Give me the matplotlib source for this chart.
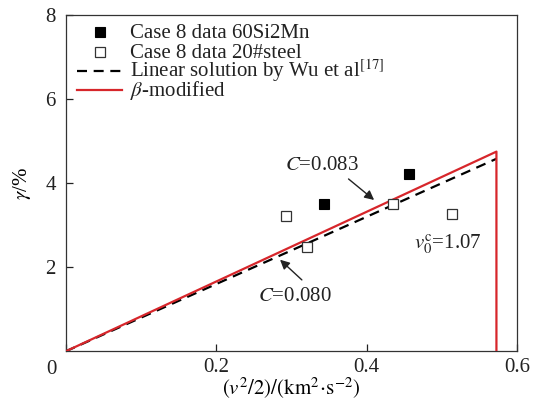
import matplotlib
matplotlib.use("Agg")
import matplotlib.pyplot as plt

# ---- data ----
x_60si2mn = [0.343, 0.4565]
y_60si2mn = [3.50, 4.22]
x_20steel = [0.293, 0.3205, 0.4357, 0.513]
y_20steel = [3.22, 2.48, 3.51, 3.26]
wu_x = [0.0, 0.5725]
wu_y = [0.0, 4.58]
beta_x = [0.0, 0.5725, 0.5725]
beta_y = [0.0, 4.75, 0.0]
xticks = [0.0, 0.2, 0.4, 0.6]
xticklabels = ["", "0.2", "0.4", "0.6"]
yticks = [2, 4, 6, 8]
yticklabels = ["2", "4", "6", "8"]
legend_labels = ["Case 8 data 60Si2Mn", "Case 8 data 20#steel",
                 r"Linear solution by Wu et al$^{[17]}$", r"$\beta$-modified"]

plt.rcParams['font.family'] = ['Liberation Serif', 'DejaVu Serif']
plt.rcParams['mathtext.fontset'] = 'stix'
FS = 15
TXT = '#222222'

fig = plt.figure(figsize=(5.37, 4.03), dpi=100)
ax = fig.add_axes([0.122, 0.128, 0.841, 0.835])

red = '#d7262b'
dash = (0, (4.5, 3))
ax.plot(wu_x, wu_y, color='black', lw=1.6, ls=dash, zorder=2)
ax.plot(beta_x, beta_y, color=red, lw=1.6, zorder=3)
sq60 = dict(ls='none', marker='s', ms=7.5, mfc='black', mec='black', mew=0.8)
sq20 = dict(ls='none', marker='s', ms=7.5, mfc='white', mec='#333333', mew=0.9)
ax.plot(x_60si2mn, y_60si2mn, zorder=4, **sq60)
ax.plot(x_20steel, y_20steel, zorder=4, **sq20)

ax.set_xlim(0, 0.6)
ax.set_ylim(0, 8)
ax.set_xticks(xticks)
ax.set_xticklabels(xticklabels)
ax.set_yticks(yticks)
ax.set_yticklabels(yticklabels)
ax.tick_params(direction='in', length=5, width=0.9, labelsize=FS, colors=TXT)
ax.tick_params(axis='x', pad=5)
ax.tick_params(axis='y', pad=7)
for s in ax.spines.values():
    s.set_linewidth(0.9)
    s.set_color('#333333')

ax.annotate("0", xy=(0, 0), xycoords='data', xytext=(-10, -6),
            textcoords='offset points', ha='center', va='top', fontsize=FS, color=TXT)

ax.set_xlabel(r"$(v^2/2)/(\mathrm{km}^2\!\cdot\!\mathrm{s}^{-2})$", fontsize=FS, labelpad=-1)
ax.set_ylabel(r"$\gamma$/%", fontsize=FS, labelpad=9)

# annotations
ax.annotate("", xy=(0.410, 3.60), xytext=(0.376, 4.10),
            arrowprops=dict(arrowstyle='-|>', color=TXT, lw=1.0,
                            mutation_scale=14, shrinkA=0, shrinkB=0))
ax.text(0.292, 4.43, r"$C$=0.083", fontsize=FS, ha='left', va='center', color=TXT)
ax.annotate("", xy=(0.285, 2.18), xytext=(0.314, 1.70),
            arrowprops=dict(arrowstyle='-|>', color=TXT, lw=1.0,
                            mutation_scale=14, shrinkA=0, shrinkB=0))
ax.text(0.256, 1.30, r"$C$=0.080", fontsize=FS, ha='left', va='center', color=TXT)
ax.text(0.4635, 2.56, r"$v_0^{\mathrm{c}}$=1.07", fontsize=FS, ha='left', va='center', color=TXT)

# legend (manual, no frame)
row_c = [0.9495, 0.890, 0.8336, 0.777]
row_b = [0.9317, 0.8722, 0.8157, 0.7593]
hx0, hx1, hxm, tx = 0.0255, 0.125, 0.0764, 0.143
T = ax.transAxes
ax.plot([hxm], [row_c[0]], transform=T, clip_on=False, **sq60)
ax.plot([hxm], [row_c[1]], transform=T, clip_on=False, **sq20)
ax.plot([hx0, hx1], [row_c[2]] * 2, transform=T, clip_on=False, color='black', lw=1.6, ls=dash)
ax.plot([hx0, hx1], [row_c[3]] * 2, transform=T, clip_on=False, color=red, lw=1.6)
for yb, lab in zip(row_b, legend_labels):
    ax.text(tx, yb, lab, transform=T, fontsize=FS, ha='left', va='baseline', color=TXT)

fig.savefig("out.png", dpi=100)
